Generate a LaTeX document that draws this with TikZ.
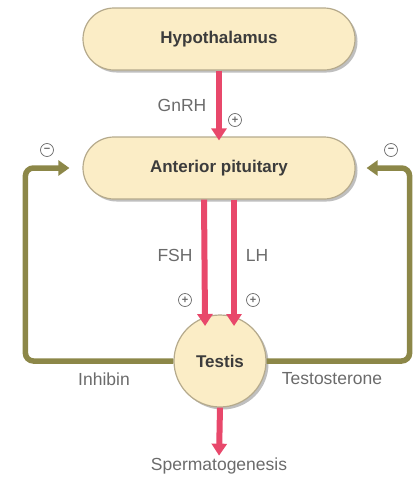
\documentclass[tikz,border=0pt]{standalone}
\usepackage{fontspec}
\setmainfont{Liberation Sans}
\usetikzlibrary{arrows.meta,shadows,calc}
\definecolor{boxfill}{HTML}{FBEDC6}
\definecolor{boxline}{HTML}{B5AA8C}
\definecolor{redarr}{HTML}{E8486B}
\definecolor{olive}{HTML}{8C8748}
\definecolor{labelgray}{HTML}{6B6B6B}
\definecolor{boldgray}{HTML}{3C3C3C}
\tikzset{
  organ/.style={draw=boxline, line width=1.2pt, fill=boxfill, rounded corners=31pt,
    minimum width=272pt, minimum height=62pt, font=\fontsize{17}{20}\selectfont\bfseries,
    text=boldgray, drop shadow={shadow xshift=2.5pt, shadow yshift=-2.5pt, opacity=0.25, fill=black}},
  gland/.style={draw=boxline, line width=1.2pt, fill=boxfill, circle, minimum size=92pt,
    inner sep=0pt, font=\fontsize{17}{20}\selectfont\bfseries, text=boldgray,
    drop shadow={shadow xshift=2.5pt, shadow yshift=-2.5pt, opacity=0.25, fill=black}},
  lbl/.style={font=\fontsize{17.5}{20}\selectfont, text=labelgray, inner sep=0pt},
  sign/.style={circle, draw=labelgray, line width=0.7pt, minimum size=13pt, inner sep=0pt,
    text=labelgray, font=\fontsize{11}{11}\selectfont\bfseries},
  stim/.style={draw=redarr, line width=6pt, -{Triangle[length=12pt,width=15pt]}},
  inhib/.style={draw=olive, line width=5.5pt, rounded corners=8pt, -{Triangle[length=11pt,width=15pt]}},
}
\begin{document}
\begin{tikzpicture}[x=1pt,y=-1pt]
\useasboundingbox (0,0) rectangle (418,477);
\node[organ] (hyp) at (219,39) {Hypothalamus};
\node[organ] (pit) at (219,168) {Anterior pituitary};
\node[gland] (testis) at (220,361) {Testis};
\node[lbl] (sperm) at (219,466) {Spermatogenesis};
\node[lbl] (gnrh) at (182,105) {GnRH};
\node[lbl] (fsh) at (175,255) {FSH};
\node[lbl] (lh) at (257,255) {LH};
\node[lbl] (inhibin) at (104,379) {Inhibin};
\node[lbl] (testo) at (332,379) {Testosterone};
\node[sign] (p1) at (235,120) {+};
\node[sign] (p2) at (185,300) {+};
\node[sign] (p3) at (253,300) {+};
\node[sign] (m1) at (47,150) {−};
\node[sign] (m2) at (391,150) {−};
% stimulatory arrows
\draw[stim, shorten >=-4pt] (hyp.south) -- (pit.north);
\draw[stim, shorten >=-6pt] ([xshift=-15pt]pit.south) -- ([xshift=-15pt]testis.north |- 0,320);
\draw[stim, shorten >=-6pt] ([xshift=15pt]pit.south) -- ([xshift=14pt]testis.north |- 0,320);
\draw[stim, shorten >=2pt] (testis.south) -- (sperm.north);
% feedback
\draw[inhib, shorten >=13pt] (testis.west) -- ++(-148,0) |- (pit.west);
\draw[inhib, shorten >=11pt] (testis.east) -- ++(143,0) |- (pit.east);
\end{tikzpicture}
\end{document}
